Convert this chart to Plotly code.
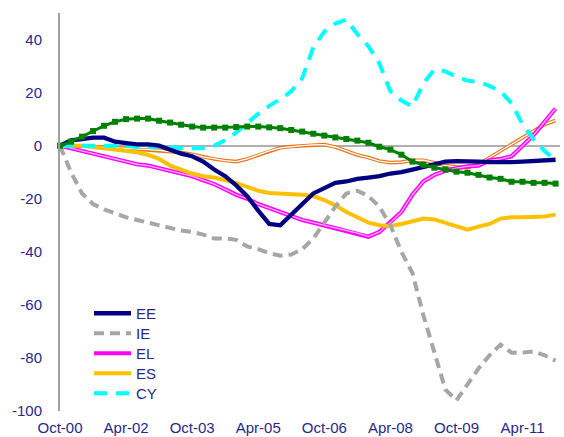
import plotly.graph_objects as go
import pandas as pd

# Quarterly categories Oct-00 .. Jan-12
quarters = [d.strftime("%b-%y") for d in pd.date_range("2000-10-01", periods=46, freq="QS-OCT")]
tick_labels = ["Oct-00", "Apr-02", "Oct-03", "Apr-05", "Oct-06", "Apr-08", "Oct-09", "Apr-11"]
y_ticks = [-100, -80, -60, -40, -20, 0, 20, 40]
y_tick_text = ["-100", "-80", "-60", "-40", "-20", "0", "20", "40"]

EE = [0, 2, 2.5, 3, 3, 1.5, 1, 0.5, 0.5, 0, -1.5, -3, -4, -6, -9, -11.5, -15, -19, -24.5, -29.5,
      -30, -26, -22, -18, -16, -14, -13.5, -12.5, -12, -11.5, -10.5, -10, -9, -8, -7, -6,
      -5.8, -5.7, -6, -6.2, -6.3, -6.2, -6, -5.8, -5.6, -5.3]
IE = [0, -10, -18, -22, -24, -25.5, -27, -28, -29, -30, -31, -32, -32.5, -33.5, -35, -35,
      -35.5, -38, -39, -40.5, -41.5, -41, -39, -35, -29, -23, -18, -17, -19, -23, -30, -40,
      -48, -64, -78, -92, -96, -90, -84, -79, -75, -78, -78, -77.5, -79, -81]
EL = [0, -1, -2, -3, -4, -5, -6, -7, -7.5, -8.5, -9.5, -10.5, -11.5, -13, -14.5, -16.5, -18.5,
      -20, -22, -23.5, -25, -26.5, -28, -29, -30, -31, -32, -33, -34.3, -32.5, -29, -25, -18.5,
      -13.5, -11, -9.5, -8.5, -7.8, -7.5, -5.5, -5, -4, 0, 4, 9, 14]
ES = [0, 0, 0, -0.5, -1, -1.5, -2, -2.5, -3.5, -5, -7.5, -9, -10.5, -11.5, -12, -13, -14, -15.5,
      -17, -17.8, -18, -18.3, -18.5, -19, -20.5, -22.5, -25, -27, -29, -30, -30.3, -29.5, -28.5,
      -27.5, -27.8, -29, -30.5, -31.7, -30.5, -29.5, -27.5, -27, -27, -27, -26.7, -26]
CY = [0, 0, 0, 0, 0, 0, 0, -0.5, -0.5, -0.5, -0.5, -1, -1, -1, 0, 2, 5, 8.5, 12, 15, 17.5, 20.5,
      25.5, 37, 43, 46, 47.5, 42, 37.5, 31, 20.5, 17, 14.8, 23.5, 28.7, 28, 26, 24.5, 24, 22.5,
      20.5, 16, 8, 2.5, -2, -5.5]
GREEN = [0, 1.5, 3.4, 5.5, 7.5, 9, 10, 10.2, 10.2, 9.4, 8.7, 7.9, 7.2, 6.8, 6.8, 6.8, 7, 7.2, 7.2,
         6.9, 6.6, 5.9, 5.3, 4.5, 3.8, 3.1, 2.5, 1.9, 1.1, -0.4, -1.5, -3.4, -6, -7.2, -8.3, -9,
         -9.8, -10.2, -11, -12, -12.5, -13.6, -13.6, -14, -14, -14.3]
ORANGE = [0, 0, 0, -0.3, -0.5, -0.8, -1, -1.2, -1.5, -1.8, -2.2, -2.6, -3.2, -4.2, -5, -5.6, -6,
          -5, -3.5, -2, -0.8, -0.3, 0, 0.3, 0.4, -0.5, -2, -3.5, -4.5, -5.8, -6.4, -6.2, -5.5,
          -5.5, -6.4, -7.5, -8, -8.3, -7, -4.5, -2, 0.5, 3, 5.5, 8, 9.5]

TXT = "#27278C"
FONT = "Arial, Liberation Sans, sans-serif"
fig = go.Figure()

# orange double line (not in legend)
fig.add_trace(go.Scatter(x=quarters, y=ORANGE, mode="lines", showlegend=False,
                         line=dict(color="#E8751A", width=3.6)))
fig.add_trace(go.Scatter(x=quarters, y=ORANGE, mode="lines", showlegend=False,
                         line=dict(color="white", width=1.3)))
# EL double magenta
fig.add_trace(go.Scatter(x=quarters, y=EL, mode="lines", name="EL", legend="legend3",
                         line=dict(color="#FF00FF", width=4.2)))
fig.add_trace(go.Scatter(x=quarters, y=EL, mode="lines", showlegend=False,
                         line=dict(color="#FFB0FF", width=1.3)))
fig.add_trace(go.Scatter(x=quarters, y=ES, mode="lines", name="ES", legend="legend4",
                         line=dict(color="#FFC000", width=4)))
fig.add_trace(go.Scatter(x=quarters, y=IE, mode="lines", name="IE", legend="legend2",
                         line=dict(color="#A6A6A6", width=4, dash="10px,6px")))
fig.add_trace(go.Scatter(x=quarters, y=CY, mode="lines", name="CY", legend="legend5",
                         line=dict(color="#00FFFF", width=4, dash="13px,9px")))
fig.add_trace(go.Scatter(x=quarters, y=EE, mode="lines", name="EE", legend="legend",
                         line=dict(color="#000080", width=4.3)))
fig.add_trace(go.Scatter(x=quarters, y=GREEN, mode="lines+markers", showlegend=False,
                         line=dict(color="#008000", width=3),
                         marker=dict(symbol="square", size=6, color="#008000"),
                         cliponaxis=False))

def leg(ypos):
    return dict(x=0.058, y=ypos, xanchor="left", yanchor="top",
                bgcolor="rgba(0,0,0,0)", font=dict(family=FONT, size=15, color=TXT),
                itemwidth=37)

fig.update_layout(
    width=564, height=437,
    margin=dict(l=60, r=4, t=13, b=26),
    paper_bgcolor="white", plot_bgcolor="white",
    font=dict(family=FONT, size=15, color=TXT),
    showlegend=True,
    legend=leg(0.2864), legend2=leg(0.2362), legend3=leg(0.1859),
    legend4=leg(0.1357), legend5=leg(0.0854),
    xaxis=dict(type="category", categoryorder="array", categoryarray=quarters,
               range=[0, 45.4], tickmode="array", tickvals=tick_labels, ticktext=tick_labels,
               showgrid=False, showline=False, zeroline=False, ticks="", automargin=False,
               ticklabelstandoff=6),
    yaxis=dict(range=[-100, 50], tickmode="array", tickvals=y_ticks, ticktext=y_tick_text,
               showgrid=False, showline=True, linecolor="#A0A0A0", linewidth=2,
               zeroline=True, zerolinecolor="#B0B0B0", zerolinewidth=2,
               ticks="", ticklabelstandoff=13, automargin=False),
)

fig.write_html("out.html", config={"displayModeBar": False},
               post_script="document.body.style.margin='0px';")
